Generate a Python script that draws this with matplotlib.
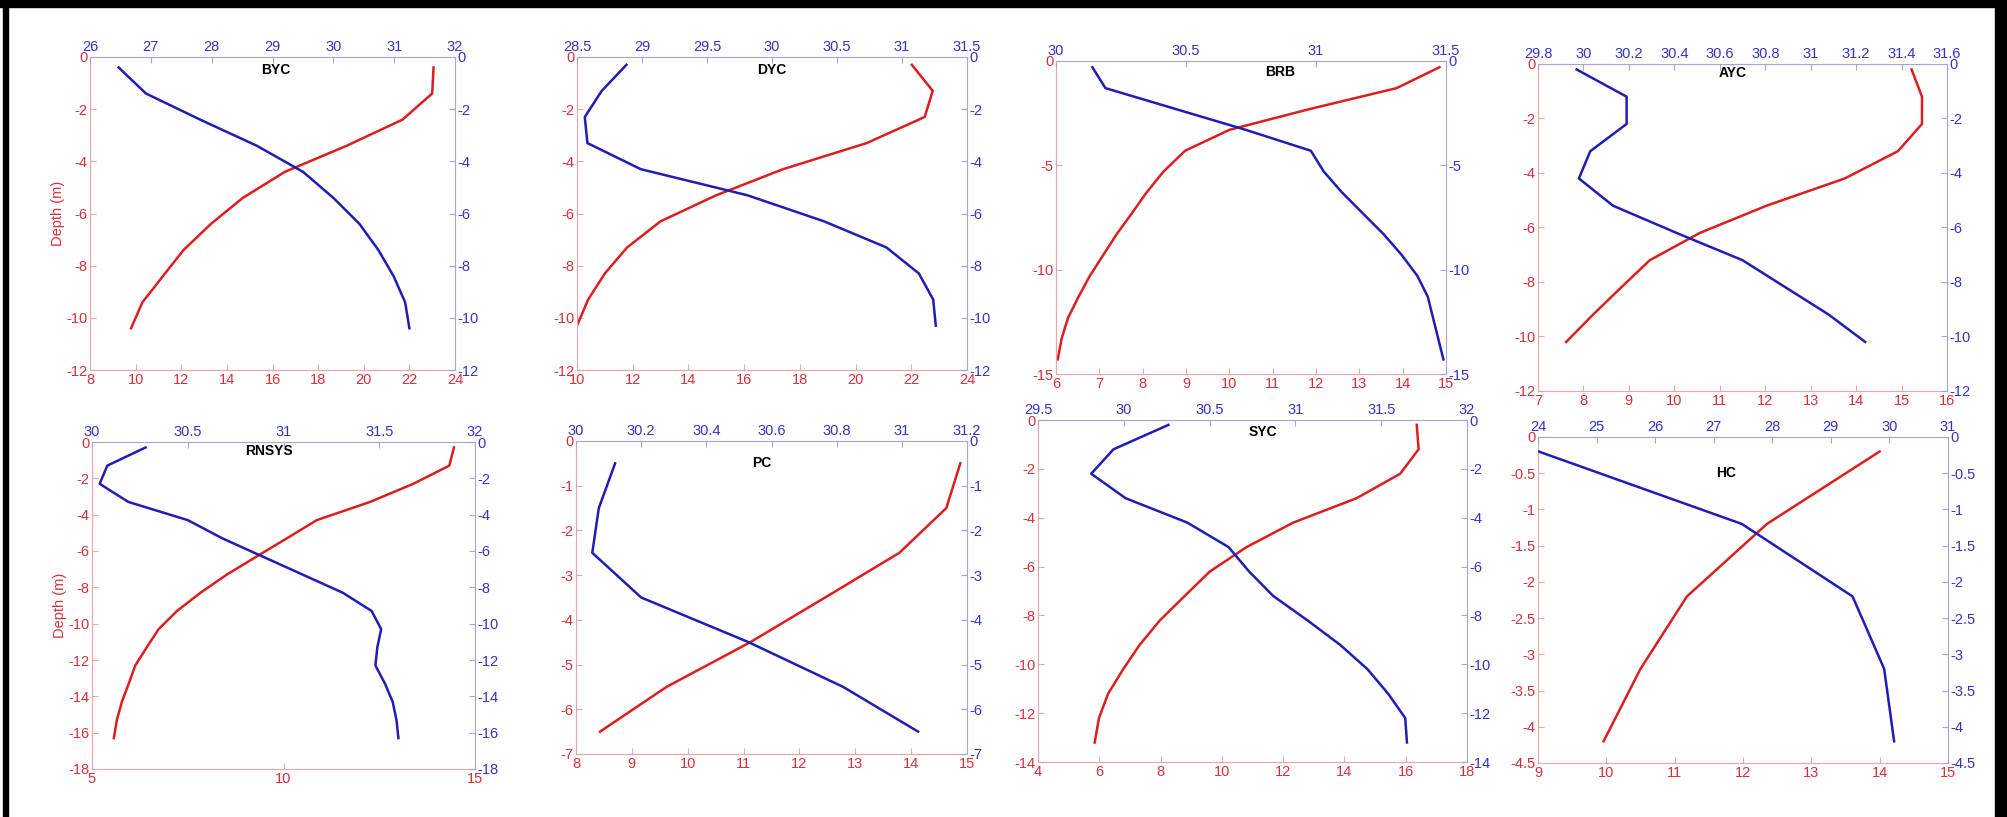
import matplotlib
matplotlib.use("Agg")
import matplotlib.pyplot as plt
from matplotlib.patches import Rectangle
from matplotlib.ticker import FuncFormatter
import numpy as np

# CTD profiles: temperature (bottom axis, red) and salinity (top axis, blue) vs depth

W, H = 2007, 817

byc_depth = [-0.4, -1.4, -2.4, -3.4, -4.4, -5.4, -6.4, -7.4, -8.4, -9.4, -10.4]
byc_temp = [23.06, 23.0, 21.7, 19.26, 16.55, 14.7, 13.3, 12.1, 11.2, 10.3, 9.8]
byc_sal = [26.47, 26.92, 27.81, 28.74, 29.5, 30.0, 30.43, 30.74, 30.99, 31.18, 31.25]

dyc_depth = [-0.3, -1.3, -2.3, -3.3, -4.3, -5.3, -6.3, -7.3, -8.3, -9.3, -10.3]
dyc_temp = [22.02, 22.77, 22.48, 20.4, 17.4, 15.0, 13.0, 11.8, 11.0, 10.4, 10.0]
dyc_sal = [28.88, 28.69, 28.56, 28.58, 28.99, 29.81, 30.4, 30.88, 31.13, 31.24, 31.26]

brb_depth = [-0.3, -1.3, -2.3, -3.3, -4.3, -5.3, -6.3, -7.3, -8.3, -9.3, -10.3,
             -11.3, -12.3, -13.3, -14.3]
brb_temp = [14.85, 13.86, 11.86, 10.0, 8.98, 8.48, 8.09, 7.75, 7.4, 7.09, 6.78,
            6.52, 6.28, 6.13, 6.04]
brb_sal = [30.14, 30.19, 30.46, 30.73, 30.98, 31.03, 31.1, 31.18, 31.26, 31.33,
           31.39, 31.43, 31.45, 31.47, 31.49]

ayc_depth = [-0.2, -1.2, -2.2, -3.2, -4.2, -5.2, -6.2, -7.2, -8.2, -9.2, -10.2]
ayc_temp = [15.22, 15.45, 15.45, 14.92, 13.75, 12.03, 10.56, 9.46, 8.83, 8.21, 7.62]
ayc_sal = [29.97, 30.19, 30.19, 30.03, 29.98, 30.13, 30.41, 30.7, 30.89, 31.08, 31.24]

rnsys_depth = [-0.3, -1.3, -2.3, -3.3, -4.3, -5.3, -6.3, -7.3, -8.3, -9.3, -10.3,
               -11.3, -12.3, -13.3, -14.3, -15.3, -16.3]
rnsys_temp = [14.45, 14.33, 13.39, 12.26, 10.87, 10.09, 9.3, 8.52, 7.83, 7.22, 6.74,
              6.43, 6.13, 5.96, 5.78, 5.65, 5.57]
rnsys_sal = [30.28, 30.08, 30.04, 30.19, 30.5, 30.68, 30.89, 31.1, 31.31, 31.46,
             31.51, 31.49, 31.48, 31.53, 31.57, 31.59, 31.6]

pc_depth = [-0.5, -1.5, -2.5, -3.5, -4.5, -5.5, -6.5]
pc_temp = [14.88, 14.63, 13.79, 12.46, 11.12, 9.62, 8.43]
pc_sal = [30.12, 30.07, 30.05, 30.2, 30.53, 30.82, 31.05]

syc_depth = [-0.2, -1.2, -2.2, -3.2, -4.2, -5.2, -6.2, -7.2, -8.2, -9.2, -10.2,
             -11.2, -12.2, -13.2]
syc_temp = [16.36, 16.42, 15.82, 14.4, 12.33, 10.81, 9.61, 8.79, 7.98, 7.32, 6.78,
            6.29, 5.99, 5.85]
syc_sal = [30.26, 29.94, 29.81, 30.01, 30.37, 30.61, 30.73, 30.87, 31.07, 31.26,
           31.42, 31.54, 31.64, 31.65]

hc_depth = [-0.2, -1.2, -2.2, -3.2, -4.2]
hc_temp = [14.0, 12.35, 11.18, 10.5, 9.96]
hc_sal = [24.01, 27.48, 29.37, 29.91, 30.08]

RED = "#dc1e1e"
BLUE = "#1e1eb4"
RED_TXT = "#d8303a"
BLUE_TXT = "#3434c4"
RED_SPINE = "#eaa4ac"
BLUE_SPINE = "#a4a4dc"

fmt = FuncFormatter(lambda v, p: "%g" % round(v, 3))


def profile(box, name, depth, temp, sal, t_ticks, s_ticks, d_ticks, title_xy, ylabel=False):
    '''
    Draws one station: temperature against depth on the bottom/left axes,
    salinity against depth on the top/right axes.
    box: (left, top, right, bottom) in pixels of the figure
    '''
    l, t, r, b = box
    rect = [l / W, 1 - b / H, (r - l) / W, (b - t) / H]
    ax = fig.add_axes(rect)
    ax2 = fig.add_axes(rect, label=name + "_sal")
    ax2.patch.set_visible(False)

    ax.plot(temp, depth, color=RED, lw=1.8)
    ax2.plot(sal, depth, color=BLUE, lw=1.8)

    ax.set_xlim(t_ticks[0], t_ticks[-1])
    ax2.set_xlim(s_ticks[0], s_ticks[-1])
    ax.set_ylim(d_ticks[-1], d_ticks[0])
    ax2.set_ylim(d_ticks[-1], d_ticks[0])
    ax.set_xticks(t_ticks)
    ax2.set_xticks(s_ticks)
    ax.set_yticks(d_ticks)
    ax2.set_yticks(d_ticks)
    for a in (ax, ax2):
        a.xaxis.set_major_formatter(fmt)
        a.yaxis.set_major_formatter(fmt)

    ax2.xaxis.tick_top()
    ax2.yaxis.tick_right()

    for s in ("top", "right"):
        ax.spines[s].set_visible(False)
    for s in ("left", "bottom"):
        ax.spines[s].set_color(RED_SPINE)
        ax2.spines[s].set_visible(False)
    for s in ("top", "right"):
        ax2.spines[s].set_color(BLUE_SPINE)

    ax.tick_params(direction="in", length=4, width=0.8, color=RED_SPINE,
                   labelcolor=RED_TXT, labelsize=10.5, pad=2)
    ax2.tick_params(direction="in", length=4, width=0.8, color=BLUE_SPINE,
                    labelcolor=BLUE_TXT, labelsize=10.5, pad=2)

    ax.text(title_xy[0], title_xy[1], name, transform=ax.transAxes, ha="center",
            va="center", fontsize=10, fontweight="bold", color="black")
    if ylabel:
        ax.set_ylabel("Depth (m)", color=RED_TXT, fontsize=10.5, labelpad=1)


plt.rcParams["font.family"] = ["Liberation Sans", "DejaVu Sans"]
fig = plt.figure(figsize=(W / 100, H / 100), dpi=100)

profile((90, 57, 455, 370), "BYC", byc_depth, byc_temp, byc_sal,
        np.arange(8, 25, 2), np.arange(26, 33, 1), np.arange(0, -13, -2), (0.51, 0.958), True)
profile((577, 57, 967, 370), "DYC", dyc_depth, dyc_temp, dyc_sal,
        np.arange(10, 25, 2), np.arange(28.5, 31.6, 0.5), np.arange(0, -13, -2), (0.5, 0.958))
profile((1056, 61, 1446, 374), "BRB", brb_depth, brb_temp, brb_sal,
        np.arange(6, 16, 1), np.arange(30, 31.6, 0.5), np.arange(0, -16, -5), (0.574, 0.965))
profile((1538, 64, 1947, 391), "AYC", ayc_depth, ayc_temp, ayc_sal,
        np.arange(7, 17, 1), np.linspace(29.8, 31.6, 10), np.arange(0, -13, -2), (0.477, 0.972))
profile((92, 442, 475, 769), "RNSYS", rnsys_depth, rnsys_temp, rnsys_sal,
        np.arange(5, 16, 5), np.arange(30, 32.1, 0.5), np.arange(0, -19, -2), (0.462, 0.972), True)
profile((576, 441, 967, 754), "PC", pc_depth, pc_temp, pc_sal,
        np.arange(8, 16, 1), np.linspace(30, 31.2, 7), np.arange(0, -8, -1), (0.476, 0.93))
profile((1038, 420, 1467, 762), "SYC", syc_depth, syc_temp, syc_sal,
        np.arange(4, 19, 2), np.arange(29.5, 32.1, 0.5), np.arange(0, -15, -2), (0.524, 0.965))
profile((1538, 437, 1948, 763), "HC", hc_depth, hc_temp, hc_sal,
        np.arange(9, 16, 1), np.arange(24, 32, 1), np.arange(0, -4.6, -0.5), (0.459, 0.89))

# black frame of the original screenshot (top, left, right)
for x0, y0, w, h in [(0, 0, W, 7), (3, 0, 5, H), (1995, 0, 12, H)]:
    fig.patches.append(Rectangle((x0 / W, 1 - (y0 + h) / H), w / W, h / H,
                                 transform=fig.transFigure, color="black", zorder=10))

fig.savefig("out.png", dpi=100)
